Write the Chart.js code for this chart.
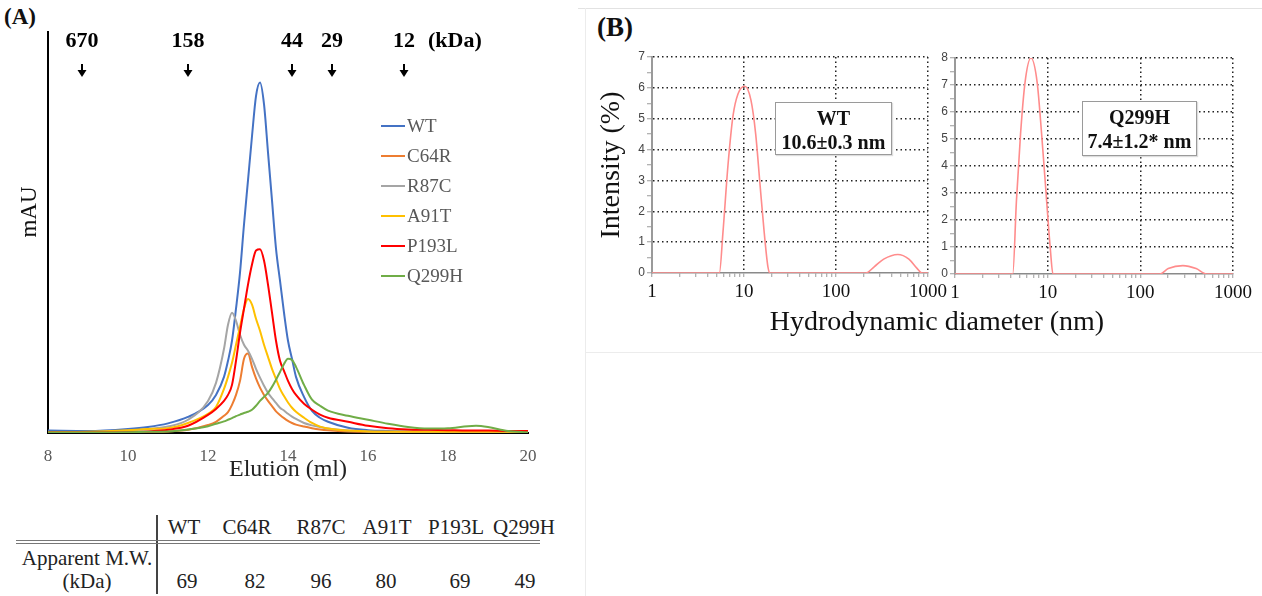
<!DOCTYPE html>
<html>
<head>
<meta charset="utf-8">
<script src="https://cdn.jsdelivr.net/npm/chart.js@4.4.0/dist/chart.umd.min.js"></script>
<style>
  body { margin: 0; width: 1262px; height: 596px; background: #fff; position: relative; overflow: hidden;
         font-family: "Liberation Serif", "Times New Roman", serif; color: #111; }
  canvas { position: absolute; }
  .abs { position: absolute; white-space: nowrap; }
  .panel { font-weight: bold; }
  .cell { position: absolute; transform: translateX(-50%); font-size: 21px; line-height: 24px; color: #222; white-space: nowrap; }
  .box { position: absolute; box-sizing: border-box; border: 1.5px solid #9a9a9a; background: #fff;
         box-shadow: 1px 1px 1px #ddd; text-align: center; font-weight: bold; font-size: 20px; line-height: 24px; padding-top: 3px; }
</style>
</head>
<body>
<div class="abs panel" style="left:4px;top:4px;font-size:23px;">(A)</div>
<canvas id="sec" width="560" height="490" style="left:0;top:0"></canvas>

<!-- apparent MW table -->
<div class="abs" style="left:156px;top:515px;width:1.5px;height:79px;background:#444"></div>
<div class="abs" style="left:16px;top:540px;width:524px;height:2px;border-top:1px solid #777;border-bottom:1px solid #777"></div>
<div id="table"></div>

<!-- panel B -->
<div class="abs" style="left:578px;top:8px;width:684px;height:1px;background:#e2e2e2"></div>
<div class="abs" style="left:585px;top:8px;width:1px;height:588px;background:#ececec"></div>
<div class="abs" style="left:585px;top:352px;width:677px;height:1px;background:#ececec"></div>
<div class="abs panel" style="left:597px;top:12px;font-size:27px;">(B)</div>
<canvas id="dlsWT" width="360" height="290" style="left:590px;top:20px"></canvas>
<canvas id="dlsQ" width="362" height="290" style="left:900px;top:20px"></canvas>
<div class="abs" style="left:700px;top:304px;width:474px;text-align:center;font-size:28px;line-height:34px;">Hydrodynamic diameter (nm)</div>
<div class="box" style="left:775px;top:102px;width:117px;height:53px;">WT<br>10.6±0.3 nm</div>
<div class="box" style="left:1082px;top:101px;width:115px;height:55px;">Q299H<br>7.4±1.2* nm</div>

<script>
// ---- size-exclusion chromatography (panel A) ----
const elution = [8, 9, 10, 10.5, 11, 11.5, 12, 12.2, 12.4, 12.5, 12.6, 12.7, 12.8, 12.9, 13.0, 13.1, 13.2, 13.3,
  13.4, 13.5, 13.6, 13.7, 13.8, 13.9, 14.0, 14.1, 14.2, 14.4, 14.6, 14.8, 15.0, 15.5, 16, 16.5, 17, 17.5, 18, 18.5,
  18.7, 19, 19.5, 20];

const wt = [0.6, 0.5, 1.0, 1.5, 2.4, 4.0, 7.0, 9.5, 14, 18, 23, 31, 40, 52, 63, 74, 84, 87.4,
  82, 70, 58, 46, 38, 30, 23, 18.5, 14, 9, 5.5, 3.8, 2.8, 1.3, 0.7, 0.5, 0.4, 0.4, 0.3, 0.3,
  0.3, 0.3, 0.3, 0.3];
const c64r = [0.1, 0.1, 0.2, 0.3, 0.4, 0.8, 2.0, 2.8, 4.3, 5.2, 7.0, 9.5, 13, 18.5, 19.8, 16.5, 13.6, 11.3,
  9.5, 8, 6.7, 5.4, 4.5, 3.7, 3.0, 2.5, 2.1, 1.6, 1.2, 0.9, 0.7, 0.4, 0.3, 0.3, 0.3, 0.3, 0.3, 0.3,
  0.3, 0.3, 0.3, 0.3];
const r87c = [0.2, 0.2, 0.6, 1.0, 1.6, 3.3, 8, 12.5, 21, 27, 30, 28, 24.5, 22, 20.5, 18.5, 16, 13.8,
  11.8, 10, 8.7, 7.5, 6.3, 5.6, 4.8, 4.1, 3.5, 2.5, 1.9, 1.5, 1.1, 0.6, 0.4, 0.3, 0.3, 0.3, 0.3, 0.3,
  0.3, 0.3, 0.3, 0.3];
const a91t = [0.2, 0.3, 0.7, 1.0, 1.2, 2.5, 4.8, 6.5, 11, 14, 17.5, 22, 26.5, 31, 33.4, 32, 28.5, 25.5,
  22, 19, 16, 13.5, 11, 9.2, 7.6, 6.3, 5.3, 3.8, 2.5, 1.6, 1.1, 0.6, 0.4, 0.3, 0.3, 0.3, 0.3, 0.3,
  0.3, 0.3, 0.3, 0.3];
const p193l = [0.1, 0.1, 0.2, 0.4, 0.8, 1.8, 4.5, 6, 8, 9.5, 12, 18, 25, 31, 37, 42, 45.5, 45.8,
  43, 37, 30, 23, 18, 15.5, 13, 11, 9.5, 7.3, 5.8, 4.6, 3.8, 2.8, 1.8, 1.2, 0.9, 0.8, 0.7, 0.6,
  0.6, 0.6, 0.5, 0.5];
const q299h = [0.1, 0.1, 0.2, 0.3, 0.4, 0.9, 1.7, 2.3, 2.9, 3.3, 3.7, 4.2, 4.6, 5.0, 5.3, 5.8, 6.8, 8.0,
  9.0, 10, 11.5, 13.3, 15.2, 17.2, 18.5, 18.2, 16.5, 12, 8.3, 6.8, 5.6, 4.3, 3.3, 2.3, 1.5, 1.1, 1.2, 1.7,
  1.8, 1.5, 0.5, 0.2];

const mutants = ['WT', 'C64R', 'R87C', 'A91T', 'P193L', 'Q299H'];
const mutantValues = [wt, c64r, r87c, a91t, p193l, q299h];
const mutantColors = ['#4472C4', '#ED7D31', '#A5A5A5', '#FFC000', '#FF0000', '#70AD47'];

// standards marked with arrows above the trace
const markerElution = [8.85, 11.5, 14.1, 15.1, 16.9];
const markerKda = ['670', '158', '44', '29', '12'];

const apparentMW = [69, 82, 96, 80, 69, 49];

// ---- DLS (panel B) ----
const wtDiameter = [1, 5.4, 5.9, 6.7, 7.6, 8.6, 10.2, 11.9, 13.4, 14.9, 16.6, 18.2, 19.2, 210, 260, 330, 470, 620, 760, 860, 1000];
const wtIntensity = [0, 0, 1.3, 3.5, 5.1, 5.8, 6.05, 5.6, 4.5, 2.9, 1.3, 0.2, 0, 0, 0.2, 0.45, 0.6, 0.45, 0.15, 0, 0];
const q299hDiameter = [1, 4.2, 4.6, 5.1, 5.7, 6.6, 7.7, 8.6, 9.75, 10.7, 11.4, 163, 200, 288, 400, 519, 1000];
const q299hIntensity = [0, 0, 2.7, 5.2, 7.1, 8.0, 7.1, 5.2, 2.7, 0.9, 0, 0, 0.2, 0.31, 0.2, 0, 0];
const decades = [1, 10, 100, 1000];

const SERIF = '"Liberation Serif", "Times New Roman", serif';

// table below panel A
const headCenters = [184, 247, 321, 387, 456, 524];
const valueCenters = [187, 255, 321, 386, 460, 525];
let html = '<div class="cell" style="left:87px;top:546px">Apparent M.W.</div>' +
           '<div class="cell" style="left:87px;top:569px">(kDa)</div>';
mutants.forEach((m, i) => {
  html += `<div class="cell" style="left:${headCenters[i]}px;top:515px">${m}</div>`;
  html += `<div class="cell" style="left:${valueCenters[i]}px;top:569px">${apparentMW[i]}</div>`;
});
document.getElementById('table').innerHTML = html;

// arrows, legend, y label for panel A
const secDecor = {
  id: 'secDecor',
  afterDraw(chart) {
    const { ctx, scales: { x } } = chart;
    ctx.save();
    ctx.fillStyle = '#000';
    ctx.strokeStyle = '#000';
    ctx.font = 'bold 22px ' + SERIF;
    ctx.textAlign = 'center';
    ctx.textBaseline = 'middle';
    markerElution.forEach((ml, i) => {
      const px = x.getPixelForValue(ml);
      ctx.fillText(markerKda[i], px, 41);
      ctx.lineWidth = 2;
      ctx.beginPath(); ctx.moveTo(px, 64); ctx.lineTo(px, 71); ctx.stroke();
      ctx.beginPath(); ctx.moveTo(px - 4.5, 70); ctx.lineTo(px + 4.5, 70); ctx.lineTo(px, 77); ctx.closePath(); ctx.fill();
    });
    const lastPx = x.getPixelForValue(markerElution[markerElution.length - 1]);
    ctx.textAlign = 'left';
    ctx.fillText('(kDa)', lastPx + 24, 41);

    // legend
    ctx.font = '19px ' + SERIF;
    mutants.forEach((m, i) => {
      const y = 126 + i * 30;
      ctx.strokeStyle = mutantColors[i];
      ctx.lineWidth = 2;
      ctx.beginPath(); ctx.moveTo(381, y); ctx.lineTo(405, y); ctx.stroke();
      ctx.fillStyle = '#595959';
      ctx.fillText(m, 407, y + 1);
    });

    // y title
    ctx.fillStyle = '#111';
    ctx.font = '23px ' + SERIF;
    ctx.textAlign = 'center';
    ctx.translate(30, 212);
    ctx.rotate(-Math.PI / 2);
    ctx.fillText('mAU', 0, 0);
    ctx.restore();
  }
};

new Chart(document.getElementById('sec'), {
  type: 'line',
  data: {
    datasets: mutants.map((m, i) => ({
      label: m,
      data: elution.map((v, j) => ({ x: v, y: mutantValues[i][j] })),
      borderColor: mutantColors[i],
      borderWidth: 2,
      pointRadius: 0,
      fill: false,
      cubicInterpolationMode: 'monotone',
      order: mutants.length - i
    }))
  },
  options: {
    responsive: false,
    animation: false,
    layout: { padding: { top: 32, right: 32, left: 0, bottom: 0 } },
    plugins: { legend: { display: false }, tooltip: { enabled: false } },
    scales: {
      x: {
        type: 'linear', min: 8, max: 20,
        ticks: { stepSize: 2, color: '#595959', font: { family: SERIF, size: 17 }, padding: 13, maxRotation: 0 },
        grid: { display: false, drawTicks: false },
        border: { color: '#000', width: 2 },
        title: { display: true, text: 'Elution (ml)', color: '#222', font: { family: SERIF, size: 24 }, padding: { top: 0, bottom: 6 } },
        afterFit(s) { s.height = 57; s.paddingLeft = 0; s.paddingRight = 0; }
      },
      y: {
        min: 0, max: 100,
        ticks: { display: false },
        grid: { display: false, drawTicks: false },
        border: { color: '#000', width: 2 },
        afterFit(s) { s.width = 48; s.paddingTop = 0; s.paddingBottom = 0; }
      }
    }
  },
  plugins: [secDecor]
});

function dlsChart(id, diam, inten, yMax, yWidth, padTop, padRight, showTitle) {
  return new Chart(document.getElementById(id), {
    type: 'line',
    data: {
      datasets: [{
        data: diam.map((d, i) => ({ x: d, y: inten[i] })),
        borderColor: '#ff8c8c',
        borderWidth: 1.6,
        pointRadius: 0,
        cubicInterpolationMode: 'monotone'
      }]
    },
    options: {
      responsive: false,
      animation: false,
      layout: { padding: { top: padTop, right: padRight, left: 0, bottom: 0 } },
      plugins: { legend: { display: false }, tooltip: { enabled: false } },
      scales: {
        x: {
          type: 'logarithmic', min: 1, max: 1000,
          afterBuildTicks(s) {
            const t = [];
            for (let d = 1; d < 1000; d *= 10) for (let k = 1; k < 10; k++) t.push({ value: d * k });
            t.push({ value: 1000 });
            s.ticks = t;
          },
          ticks: { autoSkip: false, maxRotation: 0, color: '#111', font: { family: SERIF, size: 19 }, padding: 4,
                   callback: v => decades.includes(v) ? String(v) : '' },
          grid: { color: c => (c.tick && decades.includes(c.tick.value) && c.tick.value > 1) ? '#222' : 'rgba(0,0,0,0)',
                  lineWidth: 1.5, tickColor: '#9a9a9a', tickLength: 4, tickWidth: 1 },
          border: { color: '#8a8a8a', width: 1.5, dash: [1.5, 3] },
          afterFit(s) { s.height = 290 - (padTop + 216); s.paddingLeft = 0; s.paddingRight = 0; }
        },
        y: {
          min: 0, max: yMax,
          ticks: { stepSize: 0.5, autoSkip: false, color: '#444', font: { family: '"Liberation Sans", Arial, sans-serif', size: 12 }, padding: 2,
                   callback: v => Number.isInteger(v) ? String(v) : '' },
          grid: { color: c => (c.tick && Number.isInteger(c.tick.value) && c.tick.value > 0) ? '#222' : 'rgba(0,0,0,0)',
                  lineWidth: 1.5, tickColor: '#9a9a9a', tickLength: 5, tickWidth: 1 },
          border: { color: '#9a9a9a', width: 2, dash: [1.5, 3] },
          title: { display: showTitle, text: 'Intensity (%)', color: '#111', font: { family: SERIF, size: 28 }, padding: { top: 5, bottom: 0 } },
          afterFit(s) { s.width = yWidth; s.paddingTop = 0; s.paddingBottom = 0; }
        }
      }
    }
  });
}

dlsChart('dlsWT', wtDiameter, wtIntensity, 7, 62, 37, 22, true);
dlsChart('dlsQ', q299hDiameter, q299hIntensity, 8, 55, 38, 29, false);
</script>
</body>
</html>
